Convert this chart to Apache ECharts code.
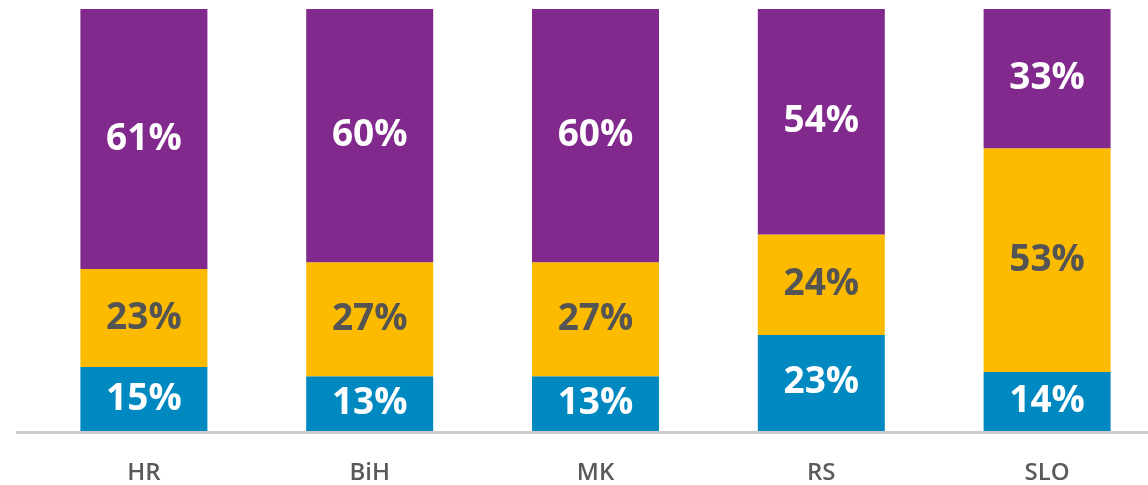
<!DOCTYPE html>
<html>
<head>
<meta charset="utf-8">
<script src="https://cdn.jsdelivr.net/npm/echarts@6/dist/echarts.min.js"></script>
<style>
  html, body { margin: 0; padding: 0; background: #fff; overflow: hidden; }
  /* 画布比窗口略宽，最右边的柱子超出的部分被裁掉 */
  #chart { width: 1160px; height: 485px; }
</style>
</head>
<body>
<div id="chart"></div>
<script>
// 国家
const categories = ['HR', 'BiH', 'MK', 'RS', 'SLO']
// 三个分段（从下到上）
const blueValues = [15, 13, 13, 23, 14]
const yellowValues = [23, 27, 27, 24, 53]
const purpleValues = [61, 60, 60, 54, 33]

// 每根柱子按总和归一化到 100
const totals = categories.map((c, i) => blueValues[i] + yellowValues[i] + purpleValues[i])
const toShare = arr => arr.map((v, i) => ({ value: v / totals[i] * 100, raw: v }))

const chart = echarts.init(document.getElementById('chart'))

function makeSeries (name, arr, color, textColor) {
  return {
    name: name,
    type: 'bar',
    stack: 'total',
    barWidth: 127,
    data: toShare(arr),
    itemStyle: { color: color },
    label: {
      show: true,
      position: 'inside',
      formatter: p => p.data.raw + '%',
      color: textColor,
      fontFamily: 'Open Sans',
      fontWeight: 'bold',
      fontSize: 37
    }
  }
}

chart.setOption({
  animation: false,
  textStyle: { fontFamily: 'Open Sans' },
  grid: {
    left: 31,
    top: 9,
    right: 0,
    bottom: 54
  },
  xAxis: {
    type: 'category',
    data: categories,
    axisLine: { show: false },
    axisTick: { show: false },
    axisLabel: {
      color: '#5a5a5a',
      fontFamily: 'Open Sans',
      fontWeight: 600,
      fontSize: 24,
      margin: 30
    }
  },
  yAxis: {
    type: 'value',
    min: 0,
    max: 100,
    show: false,
    splitLine: { show: false }
  },
  graphic: [
    {
      type: 'rect',
      z: 100,
      shape: { x: 16, y: 431, width: 1144, height: 3 },
      style: { fill: '#cccccc' }
    }
  ],
  series: [
    makeSeries('blue', blueValues, '#0089c0', '#ffffff'),
    makeSeries('yellow', yellowValues, '#fdbb00', '#545454'),
    makeSeries('purple', purpleValues, '#82298d', '#ffffff')
  ]
})
</script>
</body>
</html>
